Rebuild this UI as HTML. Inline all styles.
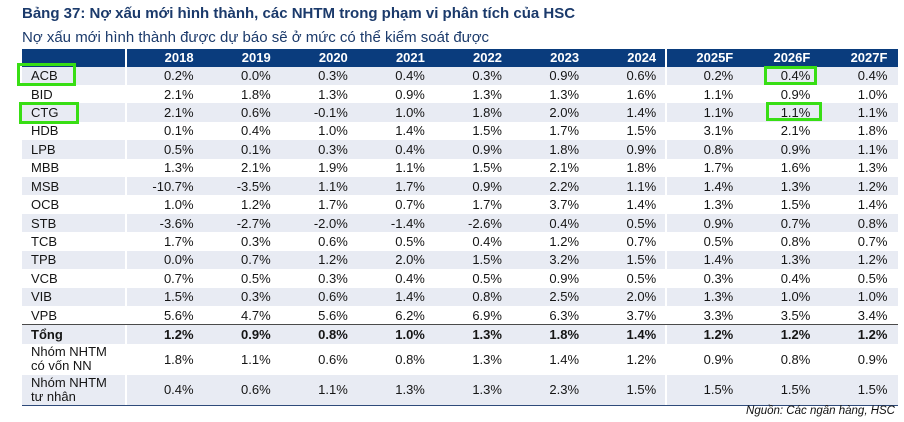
<!DOCTYPE html>
<html>
<head>
<meta charset="utf-8">
<style>
  html,body{margin:0;padding:0;background:#fff;}
  body{width:904px;height:422px;position:relative;overflow:hidden;font-family:"Liberation Sans",Arial,sans-serif;}
  .title{position:absolute;left:22px;top:4.5px;font-size:15px;line-height:17px;font-weight:bold;color:#1b3a6b;white-space:nowrap;}
  .sub{position:absolute;left:22px;top:28.5px;font-size:15px;line-height:17px;color:#1b3a6b;white-space:nowrap;}
  .tbl{position:absolute;left:22px;top:49px;width:876px;}
  .row{display:flex;height:18.43px;font-size:13px;color:#151515;}
  .row.sh{background:#e8ebf3;}
  .hd{height:17.5px;background:#0a3c7d;color:#fff;font-weight:bold;}
  .c0{width:105px;box-sizing:border-box;padding-left:9px;border-right:2px solid #fff;display:flex;align-items:center;flex:none;}
  .c{width:77.1px;box-sizing:border-box;padding-right:10.5px;display:flex;align-items:center;justify-content:flex-end;flex:none;}
  .sep{border-right:2px solid #fff;padding-right:8.5px;}
  .tot{height:19.5px;border-top:1.5px solid #4a4a4a;font-weight:bold;box-sizing:border-box;}
  .g1{height:31px;}
  .g2{height:30px;border-bottom:1.5px solid #2e4a7a;}
  .g1 .c0,.g2 .c0{line-height:14px;}
  .src{position:absolute;right:9px;top:405px;font-size:11.5px;line-height:13px;font-style:italic;color:#111;white-space:nowrap;}
  .box{position:absolute;border:3px solid #38de14;box-sizing:border-box;}
</style>
</head>
<body>
<div class="title">Bảng 37: Nợ xấu mới hình thành, các NHTM trong phạm vi phân tích của HSC</div>
<div class="sub">Nợ xấu mới hình thành được dự báo sẽ ở mức có thể kiểm soát được</div>

<div class="tbl">
  <div class="row hd"><div class="c0"></div><div class="c">2018</div><div class="c">2019</div><div class="c">2020</div><div class="c">2021</div><div class="c">2022</div><div class="c">2023</div><div class="c sep">2024</div><div class="c">2025F</div><div class="c">2026F</div><div class="c">2027F</div></div>

  <div class="row sh"><div class="c0">ACB</div><div class="c">0.2%</div><div class="c">0.0%</div><div class="c">0.3%</div><div class="c">0.4%</div><div class="c">0.3%</div><div class="c">0.9%</div><div class="c sep">0.6%</div><div class="c">0.2%</div><div class="c">0.4%</div><div class="c">0.4%</div></div>
  <div class="row"><div class="c0">BID</div><div class="c">2.1%</div><div class="c">1.8%</div><div class="c">1.3%</div><div class="c">0.9%</div><div class="c">1.3%</div><div class="c">1.3%</div><div class="c sep">1.6%</div><div class="c">1.1%</div><div class="c">0.9%</div><div class="c">1.0%</div></div>
  <div class="row sh"><div class="c0">CTG</div><div class="c">2.1%</div><div class="c">0.6%</div><div class="c">-0.1%</div><div class="c">1.0%</div><div class="c">1.8%</div><div class="c">2.0%</div><div class="c sep">1.4%</div><div class="c">1.1%</div><div class="c">1.1%</div><div class="c">1.1%</div></div>
  <div class="row"><div class="c0">HDB</div><div class="c">0.1%</div><div class="c">0.4%</div><div class="c">1.0%</div><div class="c">1.4%</div><div class="c">1.5%</div><div class="c">1.7%</div><div class="c sep">1.5%</div><div class="c">3.1%</div><div class="c">2.1%</div><div class="c">1.8%</div></div>
  <div class="row sh"><div class="c0">LPB</div><div class="c">0.5%</div><div class="c">0.1%</div><div class="c">0.3%</div><div class="c">0.4%</div><div class="c">0.9%</div><div class="c">1.8%</div><div class="c sep">0.9%</div><div class="c">0.8%</div><div class="c">0.9%</div><div class="c">1.1%</div></div>
  <div class="row"><div class="c0">MBB</div><div class="c">1.3%</div><div class="c">2.1%</div><div class="c">1.9%</div><div class="c">1.1%</div><div class="c">1.5%</div><div class="c">2.1%</div><div class="c sep">1.8%</div><div class="c">1.7%</div><div class="c">1.6%</div><div class="c">1.3%</div></div>
  <div class="row sh"><div class="c0">MSB</div><div class="c">-10.7%</div><div class="c">-3.5%</div><div class="c">1.1%</div><div class="c">1.7%</div><div class="c">0.9%</div><div class="c">2.2%</div><div class="c sep">1.1%</div><div class="c">1.4%</div><div class="c">1.3%</div><div class="c">1.2%</div></div>
  <div class="row"><div class="c0">OCB</div><div class="c">1.0%</div><div class="c">1.2%</div><div class="c">1.7%</div><div class="c">0.7%</div><div class="c">1.7%</div><div class="c">3.7%</div><div class="c sep">1.4%</div><div class="c">1.3%</div><div class="c">1.5%</div><div class="c">1.4%</div></div>
  <div class="row sh"><div class="c0">STB</div><div class="c">-3.6%</div><div class="c">-2.7%</div><div class="c">-2.0%</div><div class="c">-1.4%</div><div class="c">-2.6%</div><div class="c">0.4%</div><div class="c sep">0.5%</div><div class="c">0.9%</div><div class="c">0.7%</div><div class="c">0.8%</div></div>
  <div class="row"><div class="c0">TCB</div><div class="c">1.7%</div><div class="c">0.3%</div><div class="c">0.6%</div><div class="c">0.5%</div><div class="c">0.4%</div><div class="c">1.2%</div><div class="c sep">0.7%</div><div class="c">0.5%</div><div class="c">0.8%</div><div class="c">0.7%</div></div>
  <div class="row sh"><div class="c0">TPB</div><div class="c">0.0%</div><div class="c">0.7%</div><div class="c">1.2%</div><div class="c">2.0%</div><div class="c">1.5%</div><div class="c">3.2%</div><div class="c sep">1.5%</div><div class="c">1.4%</div><div class="c">1.3%</div><div class="c">1.2%</div></div>
  <div class="row"><div class="c0">VCB</div><div class="c">0.7%</div><div class="c">0.5%</div><div class="c">0.3%</div><div class="c">0.4%</div><div class="c">0.5%</div><div class="c">0.9%</div><div class="c sep">0.5%</div><div class="c">0.3%</div><div class="c">0.4%</div><div class="c">0.5%</div></div>
  <div class="row sh"><div class="c0">VIB</div><div class="c">1.5%</div><div class="c">0.3%</div><div class="c">0.6%</div><div class="c">1.4%</div><div class="c">0.8%</div><div class="c">2.5%</div><div class="c sep">2.0%</div><div class="c">1.3%</div><div class="c">1.0%</div><div class="c">1.0%</div></div>
  <div class="row"><div class="c0">VPB</div><div class="c">5.6%</div><div class="c">4.7%</div><div class="c">5.6%</div><div class="c">6.2%</div><div class="c">6.9%</div><div class="c">6.3%</div><div class="c sep">3.7%</div><div class="c">3.3%</div><div class="c">3.5%</div><div class="c">3.4%</div></div>

  <div class="row sh tot"><div class="c0">Tổng</div><div class="c">1.2%</div><div class="c">0.9%</div><div class="c">0.8%</div><div class="c">1.0%</div><div class="c">1.3%</div><div class="c">1.8%</div><div class="c sep">1.4%</div><div class="c">1.2%</div><div class="c">1.2%</div><div class="c">1.2%</div></div>
  <div class="row g1"><div class="c0">Nhóm NHTM<br>có vốn NN</div><div class="c">1.8%</div><div class="c">1.1%</div><div class="c">0.6%</div><div class="c">0.8%</div><div class="c">1.3%</div><div class="c">1.4%</div><div class="c sep">1.2%</div><div class="c">0.9%</div><div class="c">0.8%</div><div class="c">0.9%</div></div>
  <div class="row sh g2"><div class="c0">Nhóm NHTM<br>tư nhân</div><div class="c">0.4%</div><div class="c">0.6%</div><div class="c">1.1%</div><div class="c">1.3%</div><div class="c">1.3%</div><div class="c">2.3%</div><div class="c sep">1.5%</div><div class="c">1.5%</div><div class="c">1.5%</div><div class="c">1.5%</div></div>
</div>

<div class="src">Nguồn: Các ngân hàng, HSC</div>

<div class="box" style="left:17px;top:63px;width:59px;height:22.5px;"></div>
<div class="box" style="left:19px;top:102px;width:60px;height:21.5px;"></div>
<div class="box" style="left:764px;top:65.5px;width:53px;height:19px;"></div>
<div class="box" style="left:765.5px;top:102px;width:56px;height:19px;"></div>
</body>
</html>
